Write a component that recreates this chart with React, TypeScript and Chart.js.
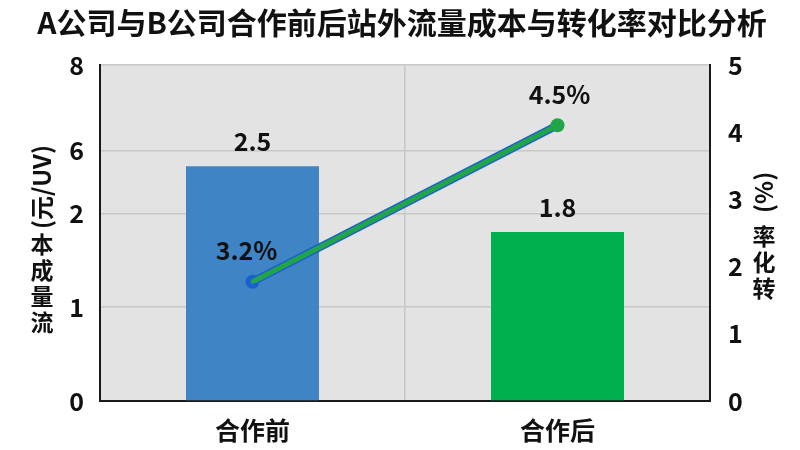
import { useEffect, useRef } from "react";
import { Chart, registerables, type ChartConfiguration, type Plugin } from "chart.js";

Chart.register(...registerables);

const TITLE = "A公司与B公司合作前后站外流量成本与转化率对比分析";
const CATEGORIES = ["合作前", "合作后"];
const COST = [2.5, 1.8]; // 元/UV
const CONV_BLUE = [3.2, 4.5]; // %
const CONV_GREEN = [3.2, 4.5]; // %
const COST_LABELS = ["2.5", "1.8"];
const CONV_LABELS = ["3.2%", "4.5%"];
// the left axis in the picture is printed with these labels at these values
const LEFT_TICK_VALUES = [0, 1, 2, 2.67, 3.58];
const LEFT_TICK_LABELS = ["0", "1", "2", "6", "8"];
const RIGHT_TICKS = [0, 1, 2, 3, 4, 5];

const FONT = "'Noto Sans CJK SC', 'Noto Sans', sans-serif";
const BAR_COLORS = ["#3f84c4", "#00b04f"];
const LINE_BLUE = "#1b5fd2";
const LINE_GREEN = "#22a548";

const plotBg: Plugin = {
  id: "plotBg",
  beforeDraw(chart) {
    const { ctx, chartArea: a } = chart;
    ctx.save();
    ctx.fillStyle = "#e3e3e3";
    ctx.fillRect(a.left, a.top, a.right - a.left, a.bottom - a.top);
    ctx.restore();
  },
};

function stacked(ctx: CanvasRenderingContext2D, x: number, bottom: number, chars: string, step: number) {
  Array.from(chars).forEach((ch, i) => ctx.fillText(ch, x, bottom - i * step));
}

function rotated(ctx: CanvasRenderingContext2D, x: number, start: number, text: string) {
  ctx.save();
  ctx.translate(x, start);
  ctx.rotate(-Math.PI / 2);
  ctx.textAlign = "left";
  ctx.fillText(text, 0, 0);
  ctx.restore();
}

const texts: Plugin = {
  id: "texts",
  afterDraw(chart) {
    const { ctx } = chart;
    ctx.save();
    ctx.fillStyle = "#111";
    ctx.textBaseline = "middle";
    ctx.textAlign = "center";

    ctx.font = `bold 30px ${FONT}`;
    ctx.fillText(TITLE, 402, 23);

    // value labels
    ctx.font = `bold 25px ${FONT}`;
    chart.getDatasetMeta(0).data.forEach((el, i) => {
      ctx.fillText(COST_LABELS[i], el.x, el.y - 25);
    });
    chart.getDatasetMeta(2).data.forEach((el, i) => {
      ctx.fillText(CONV_LABELS[i], el.x - (i === 0 ? 6 : -2), el.y - 31);
    });

    // axis titles, upright characters with the unit turned
    ctx.font = `bold 23px ${FONT}`;
    stacked(ctx, 42, 322, "流量成本", 26);
    stacked(ctx, 764, 288, "转化率", 26);
    ctx.font = `bold 24px ${FONT}`;
    rotated(ctx, 42, 229, "(元/UV)");
    rotated(ctx, 764, 213, "(%)");
    ctx.restore();
  },
};

export default function App() {
  const canvasRef = useRef<HTMLCanvasElement>(null);
  const chartRef = useRef<Chart | null>(null);

  useEffect(() => {
    document.body.style.margin = "0";
    const canvas = canvasRef.current;
    if (!canvas) return;
    chartRef.current?.destroy();

    const tickFont = { family: FONT, size: 25, weight: "bold" as const };

    const config: ChartConfiguration = {
      type: "bar",
      data: {
        labels: CATEGORIES,
        datasets: [
          {
            type: "bar",
            data: COST,
            backgroundColor: BAR_COLORS,
            yAxisID: "y",
            categoryPercentage: 1,
            barPercentage: 0.436,
            order: 3,
          },
          {
            type: "line",
            data: CONV_BLUE,
            yAxisID: "yLine",
            borderColor: LINE_BLUE,
            backgroundColor: LINE_BLUE,
            borderWidth: 8,
            pointRadius: [7, 6],
            pointBorderWidth: 0,
            tension: 0,
            order: 2,
          },
          {
            type: "line",
            data: CONV_GREEN,
            yAxisID: "yLine",
            borderColor: LINE_GREEN,
            backgroundColor: LINE_GREEN,
            borderWidth: 5,
            pointRadius: [2, 7],
            pointBorderWidth: 0,
            tension: 0,
            order: 1,
          },
        ],
      },
      options: {
        responsive: false,
        animation: false,
        layout: { padding: { top: 65 } },
        plugins: { legend: { display: false }, tooltip: { enabled: false } },
        scales: {
          x: {
            grid: { color: "#c8c8c8", lineWidth: 1.5, offset: true, drawTicks: false },
            border: { color: "#1a1a1a", width: 2 },
            ticks: { color: "#111", font: { ...tickFont, size: 25 }, padding: 14 },
            afterFit: (s) => { s.height = 49; },
          },
          y: {
            position: "left",
            min: 0,
            max: 3.58,
            afterBuildTicks: (s) => { s.ticks = LEFT_TICK_VALUES.map((v) => ({ value: v })); },
            ticks: {
              color: "#111",
              font: tickFont,
              padding: 16,
              callback: (_v, i) => LEFT_TICK_LABELS[i],
            },
            grid: { color: "#c8c8c8", lineWidth: 1.5, drawTicks: false },
            border: { color: "#1a1a1a", width: 2 },
            afterFit: (s) => { s.width = 100; },
          },
          yRight: {
            position: "right",
            min: 0,
            max: 5,
            afterBuildTicks: (s) => { s.ticks = RIGHT_TICKS.map((v) => ({ value: v })); },
            ticks: { color: "#111", font: tickFont, padding: 18 },
            grid: { display: false, drawTicks: false },
            border: { color: "#1a1a1a", width: 2 },
            afterFit: (s) => { s.width = 90; },
          },
          yLine: { display: false, min: 2.21, max: 5.0 },
        },
      },
      plugins: [plotBg, texts],
    };

    chartRef.current = new Chart(canvas, config);
    return () => chartRef.current?.destroy();
  }, []);

  return (
    <div style={{ width: 800, height: 450, background: "#fff" }}>
      <canvas ref={canvasRef} width={800} height={450} />
    </div>
  );
}
